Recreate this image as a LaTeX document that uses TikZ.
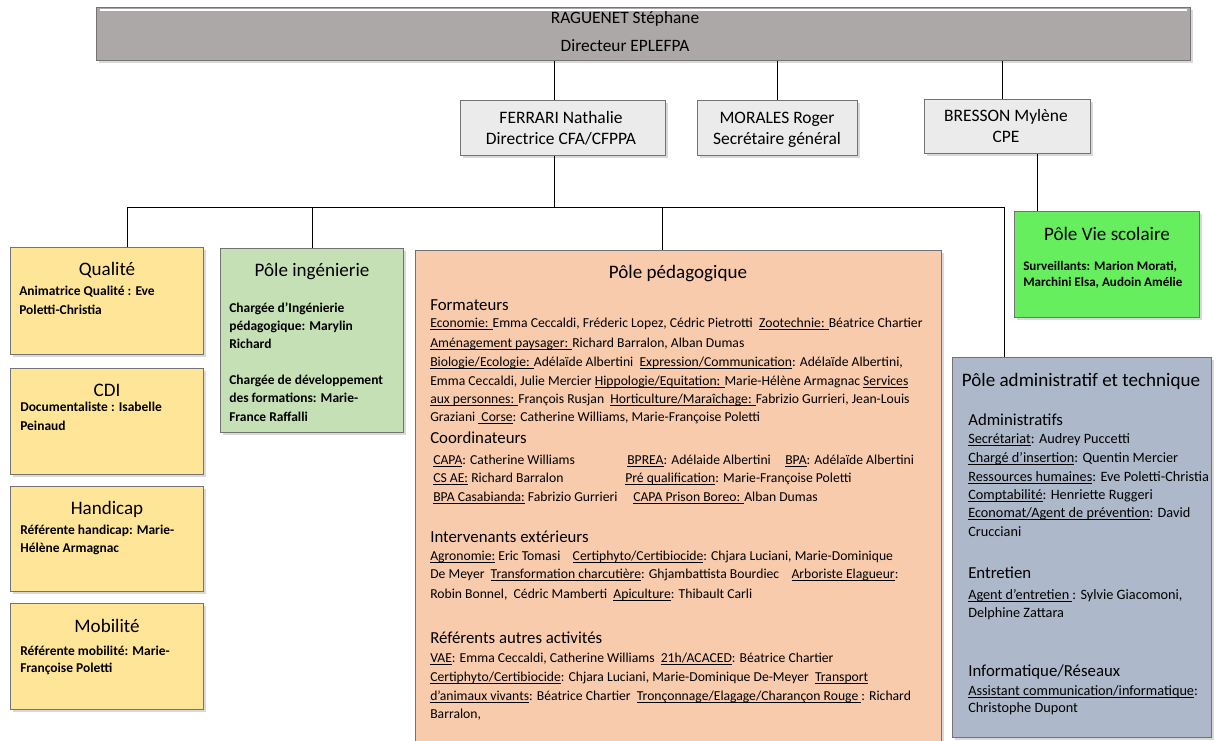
\documentclass[tikz,border=0pt]{standalone}
\usepackage{fontspec}
\setmainfont{Carlito}
\usetikzlibrary{shadows,calc}
\definecolor{topgray}{HTML}{ACA8A8}
\definecolor{lgray}{HTML}{EBEBEB}
\definecolor{yel}{HTML}{FFE598}
\definecolor{lgreen}{HTML}{C5E0B4}
\definecolor{peach}{HTML}{F8CBAD}
\definecolor{bgreen}{HTML}{66EE5E}
\definecolor{bluegray}{HTML}{ADB9CA}
\newcommand\ulk[1]{\setbox0\hbox{#1}\dp0=0pt\vtop{\copy0\kern1.3pt\hrule height 0.7pt}}
\newcommand\bx[6]{\node[boxbase, fill=#6, minimum width={(#4-#2)*0.75pt}, minimum height={(#5-#3)*0.75pt}] (#1) at (#2,#3) {};}
\tikzset{
  boxbase/.style={draw=black!55, line width=0.6pt, inner sep=0pt, anchor=north west,
    drop shadow={shadow xshift=2pt, shadow yshift=-2pt, opacity=0.3}},
  conn/.style={draw=black, line width=0.75pt},
  tb/.style={inner sep=0pt, anchor=base west, font=\fontsize{10.25pt}{11pt}\selectfont},
  tr/.style={inner sep=0pt, anchor=base west, font=\fontsize{10.7pt}{11pt}\selectfont},
  tbb/.style={inner sep=0pt, anchor=base west, font=\fontsize{10.1pt}{11pt}\selectfont\bfseries},
  sub/.style={inner sep=0pt, anchor=base west, font=\fontsize{12.6pt}{14pt}\selectfont},
  ttl/.style={inner sep=0pt, anchor=base, font=\fontsize{14.3pt}{16pt}\selectfont},
  head/.style={inner sep=0pt, anchor=base, font=\fontsize{13.1pt}{15pt}\selectfont},
  toptxt/.style={inner sep=0pt, anchor=base, font=\fontsize{13pt}{15pt}\selectfont},
}
\begin{document}
\begin{tikzpicture}[x=0.75pt,y=-0.75pt]
\useasboundingbox (0,0) rectangle (1218,740);
% boxes
\bx{top}{96}{7}{1190}{60}{topgray}
\draw[white, line width=0.9pt] ($(top.north west)+(4,3)$) -- ($(top.north east)+(-4,3)$);
\bx{fer}{460}{100}{665}{155}{lgray}
\bx{mor}{697}{100}{857}{155}{lgray}
\bx{bre}{924}{99}{1090}{153}{lgray}
\bx{qual}{10}{247}{203}{354}{yel}
\bx{cdi}{10}{368}{203}{474}{yel}
\bx{hand}{10}{486}{203}{591}{yel}
\bx{mob}{10}{603}{203}{709}{yel}
\bx{ing}{220}{248}{403}{432}{lgreen}
\bx{ped}{415}{250}{941}{750}{peach}
\bx{vie}{1014}{211}{1199}{317}{bgreen}
\bx{adm}{952}{357}{1211}{737}{bluegray}
% connector coordinates
\coordinate (c1) at (554,0);
\coordinate (c2) at (777,0);
\coordinate (c3) at (1002,0);
\coordinate (bus) at (0,207);
\coordinate (cq) at (127,0);
\coordinate (ci) at (312,0);
\coordinate (cp) at (662,0);
\coordinate (cr) at (1004,0);
\coordinate (cv) at (1037,0);
\draw[conn] (top.south -| c1) -- (fer.north -| c1);
\draw[conn] (top.south -| c2) -- (mor.north -| c2);
\draw[conn] (top.south -| c3) -- (bre.north -| c3);
\draw[conn] (fer.south -| c1) -- (bus -| c1);
\draw[conn] (qual.north -| cq) -- (bus -| cq) -- (bus -| cr) -- (adm.north -| cr);
\draw[conn] (ing.north -| ci) -- (bus -| ci);
\draw[conn] (ped.north -| cp) -- (bus -| cp);
\draw[conn] (bre.south -| cv) -- (vie.north -| cv);
% top texts
\node[toptxt] (tp1) at (625,23.5) {RAGUENET Stéphane};
\node[toptxt] (tp2) at (625,51.5) {Directeur EPLEFPA};
\node[head] (f1) at (561,123.5) {FERRARI Nathalie};
\node[head] (f2) at (561,144.5) {Directrice CFA/CFPPA};
\node[head] (m1) at (777,123.5) {MORALES Roger};
\node[head] (m2) at (777,144.5) {Secrétaire général};
\node[head] (b1) at (1006,121.5) {BRESSON Mylène};
\node[head] (b2) at (1006,142.5) {CPE};
% left boxes
\node[ttl] (q0) at (107,275.5) {Qualité};
\node[tbb] (q1) at (19,295) {Animatrice Qualité : Eve};
\node[tbb] (q2) at (19,314) {Poletti-Christia};
\node[ttl] (d0) at (107,396.5) {CDI};
\node[tbb] (d1) at (20,411.5) {Documentaliste : Isabelle};
\node[tbb] (d2) at (20,430.5) {Peinaud};
\node[ttl] (h0) at (107,514.5) {Handicap};
\node[tbb] (h1) at (20,534.5) {Référente handicap: Marie-};
\node[tbb] (h2) at (20,552.5) {Hélène Armagnac};
\node[ttl] (o0) at (107,632.5) {Mobilité};
\node[tbb] (o1) at (20,655.5) {Référente mobilité: Marie-};
\node[tbb] (o2) at (20,672.5) {Françoise Poletti};
% ingenierie
\node[ttl] (g0) at (312,276.5) {Pôle ingénierie};
\node[tbb] (g1) at (229,312.5) {Chargée d’Ingénierie};
\node[tbb] (g2) at (229,330.5) {pédagogique: Marylin};
\node[tbb] (g3) at (229,348.5) {Richard};
\node[tbb] (g4) at (229,384.5) {Chargée de développement};
\node[tbb] (g5) at (229,402.5) {des formations: Marie-};
\node[tbb] (g6) at (229,421.5) {France Raffalli};
% vie scolaire
\node[ttl] (v0) at (1107,240.5) {Pôle Vie scolaire};
\node[tbb, font=\fontsize{9.8pt}{11pt}\selectfont\bfseries] (v1) at (1023,270) {Surveillants: Marion Morati,};
\node[tbb, font=\fontsize{9.8pt}{11pt}\selectfont\bfseries] (v2) at (1023,286.5) {Marchini Elsa, Audoin Amélie};
% pedagogique
\node[ttl] (p0) at (678,278.5) {Pôle pédagogique};
\node[sub] (p1) at (430,310.5) {Formateurs};
\node[tb] (p2) at (430,327) {\ulk{Economie: }Emma Ceccaldi, Fréderic Lopez, Cédric Pietrotti \ \ulk{Zootechnie: }Béatrice Chartier};
\node[tb] (p3) at (430,347) {\ulk{Aménagement paysager: }Richard Barralon, Alban Dumas};
\node[tb] (p4) at (430,366) {\ulk{Biologie/Ecologie: }Adélaïde Albertini \ \ulk{Expression/Communication}: Adélaïde Albertini,};
\node[tb] (p5) at (430,385) {Emma Ceccaldi, Julie Mercier \ulk{Hippologie/Equitation: }Marie-Hélène Armagnac \ulk{Services}};
\node[tb] (p6) at (430,403) {\ulk{aux personnes: }François Rusjan \ \ulk{Horticulture/Maraîchage: }Fabrizio Gurrieri, Jean-Louis};
\node[tb] (p7) at (430,421) {Graziani \ulk{\ Corse}: Catherine Williams, Marie-Françoise Poletti};
\node[sub] (p8) at (430,443.5) {Coordinateurs};
\node[tb] (p9) at (433,464) {\ulk{CAPA}: Catherine Williams};
\node[tb] (p10) at (627,464) {\ulk{BPREA}: Adélaide Albertini};
\node[tb] (p11) at (785,464) {\ulk{BPA}: Adélaïde Albertini};
\node[tb] (p12) at (433,482) {\ulk{CS AE:} Richard Barralon};
\node[tb] (p13) at (625,482) {\ulk{Pré qualification}: Marie-Françoise Poletti};
\node[tb] (p14) at (433,501) {\ulk{BPA Casabianda:} Fabrizio Gurrieri};
\node[tb] (p15) at (633,501) {\ulk{CAPA Prison Boreo: }Alban Dumas};
\node[sub] (p16) at (430,542.5) {Intervenants extérieurs};
\node[tb] (p17) at (430,560) {\ulk{Agronomie:} Eric Tomasi \ \ \ \ulk{Certiphyto/Certibiocide}: Chjara Luciani, Marie-Dominique};
\node[tb] (p18) at (430,578) {De Meyer \ \ulk{Transformation charcutière}: Ghjambattista Bourdiec \ \ \ \ulk{Arboriste Elagueur}:};
\node[tb] (p19) at (430,598) {Robin Bonnel, \ Cédric Mamberti \ \ulk{Apiculture}: Thibault Carli};
\node[sub] (p20) at (430,643.5) {Référents autres activités};
\node[tb] (p21) at (430,662) {\ulk{VAE}: Emma Ceccaldi, Catherine Williams \ \ulk{21h/ACACED}: Béatrice Chartier};
\node[tb] (p22) at (430,681) {\ulk{Certiphyto/Certibiocide}: Chjara Luciani, Marie-Dominique De-Meyer \ \ulk{Transport}};
\node[tb] (p23) at (430,700) {\ulk{d’animaux vivants}: Béatrice Chartier \ \ulk{Tronçonnage/Elagage/Charançon Rouge }: Richard};
\node[tb] (p24) at (430,718) {Barralon,};
% administratif
\node[ttl] (a0) at (1081,386.5) {Pôle administratif et technique};
\node[sub] (a1) at (968,425.5) {Administratifs};
\node[tr] (a2) at (968,443) {\ulk{Secrétariat}: Audrey Puccetti};
\node[tr] (a3) at (968,462) {\ulk{Chargé d’insertion}: Quentin Mercier};
\node[tr] (a4) at (968,481) {\ulk{Ressources humaines}: Eve Poletti-Christia};
\node[tr] (a5) at (968,499) {\ulk{Comptabilité}: Henriette Ruggeri};
\node[tr] (a6) at (968,517) {\ulk{Economat/Agent de prévention}: David};
\node[tr] (a7) at (968,536) {Crucciani};
\node[sub] (a8) at (968,578.5) {Entretien};
\node[tr] (a9) at (968,599) {\ulk{Agent d’entretien }: Sylvie Giacomoni,};
\node[tr] (a10) at (968,617) {Delphine Zattara};
\node[sub] (a11) at (968,676.5) {Informatique/Réseaux};
\node[tr] (a12) at (968,695) {\ulk{Assistant communication/informatique}:};
\node[tr] (a13) at (968,712) {Christophe Dupont};
\end{tikzpicture}
\end{document}
